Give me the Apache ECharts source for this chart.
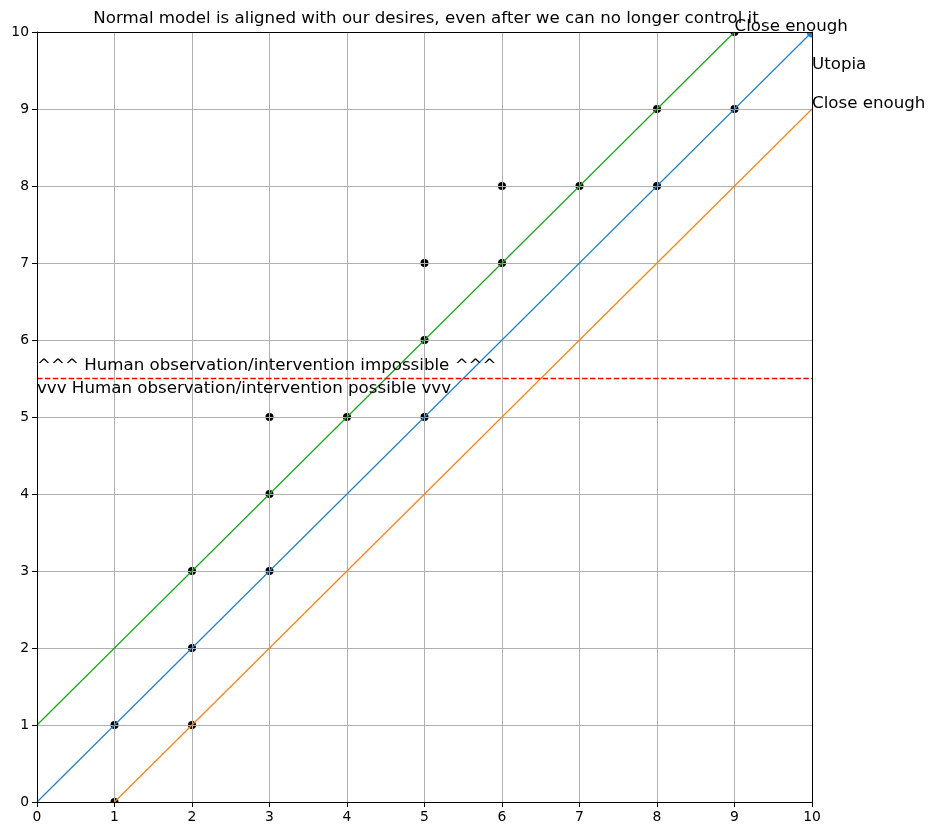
<!DOCTYPE html>
<html>
<head>
<meta charset="utf-8">
<script src="https://cdn.jsdelivr.net/npm/echarts@6/dist/echarts.min.js"></script>
<style>html,body{margin:0;padding:0;background:#fff;}#c{width:935px;height:836px;}</style>
</head>
<body>
<div id="c"></div>
<script>
const titleText = 'Normal model is aligned with our desires, even after we can no longer control it';
const axisTicks = [0, 1, 2, 3, 4, 5, 6, 7, 8, 9, 10];

// Lines (x, y pairs)
const greenLineX = [0, 9];
const greenLineY = [1, 10];
const blueLineX = [0, 10];
const blueLineY = [0, 10];
const orangeLineX = [1, 10];
const orangeLineY = [0, 9];

// Threshold line
const thresholdY = 5.5;

// Black points
const dotsX = [1, 1, 2, 2, 2, 3, 3, 3, 4, 5, 5, 5, 6, 6, 7, 8, 8, 9, 9];
const dotsY = [0, 1, 1, 2, 3, 3, 4, 5, 5, 5, 6, 7, 7, 8, 8, 8, 9, 9, 10];

// Utopia point
const utopiaX = [10];
const utopiaY = [10];

// Annotations
const annotationText = ['Close enough', 'Utopia', 'Close enough',
  '^^^ Human observation/intervention impossible ^^^',
  'vvv Human observation/intervention possible vvv'];
const annotationX = [9, 10, 10, 0, 0];
const annotationY = [10, 9.5, 9, 5.6, 5.3];

const FONT = 'DejaVu Sans';
const zip = (xs, ys) => xs.map((x, i) => [x, ys[i]]);

const chart = echarts.init(document.getElementById('c'), null, {renderer: 'canvas'});

function dotRenderer(r, color) {
  return function (params, api) {
    const p = api.coord([api.value(0), api.value(1)]);
    return {type: 'circle', shape: {cx: p[0], cy: p[1], r: r}, style: {fill: color, opacity: 1}};
  };
}

const baseAxis = {type: 'value', min: axisTicks[0], max: axisTicks[axisTicks.length - 1], interval: 1};

const option = {
  backgroundColor: '#fff',
  animation: false,
  title: {
    text: titleText,
    left: 421,
    top: 5,
    textAlign: 'center',
    textStyle: {fontFamily: FONT, fontSize: 16.67, fontWeight: 'normal', color: '#000'}
  },
  grid: {left: 37, right: 123, top: 32, bottom: 34},
  xAxis: [
    Object.assign({}, baseAxis, {
      position: 'bottom', z: 6,
      axisLine: {show: true, onZero: false, lineStyle: {color: '#000', width: 1}},
      axisTick: {show: true, length: 5, lineStyle: {color: '#000', width: 1}},
      axisLabel: {show: true, fontFamily: FONT, fontSize: 13.89, color: '#000', margin: 8},
      splitLine: {show: false}
    }),
    Object.assign({}, baseAxis, {
      position: 'top', z: 6,
      axisLine: {show: true, onZero: false, lineStyle: {color: '#000', width: 1}},
      axisTick: {show: false}, axisLabel: {show: false}, splitLine: {show: false}
    }),
    Object.assign({}, baseAxis, {
      position: 'bottom', z: 2,
      axisLine: {show: false}, axisTick: {show: false}, axisLabel: {show: false},
      splitLine: {show: true, lineStyle: {color: '#b0b0b0', width: 1}}
    })
  ],
  yAxis: [
    Object.assign({}, baseAxis, {
      position: 'left', z: 6,
      axisLine: {show: true, onZero: false, lineStyle: {color: '#000', width: 1}},
      axisTick: {show: true, length: 5, lineStyle: {color: '#000', width: 1}},
      axisLabel: {show: true, fontFamily: FONT, fontSize: 13.89, color: '#000', margin: 8},
      splitLine: {show: false}
    }),
    Object.assign({}, baseAxis, {
      position: 'right', z: 6,
      axisLine: {show: true, onZero: false, lineStyle: {color: '#000', width: 1}},
      axisTick: {show: false}, axisLabel: {show: false}, splitLine: {show: false}
    }),
    Object.assign({}, baseAxis, {
      position: 'left', z: 2,
      axisLine: {show: false}, axisTick: {show: false}, axisLabel: {show: false},
      splitLine: {show: true, lineStyle: {color: '#b0b0b0', width: 1}}
    })
  ],
  series: [
    {
      type: 'custom', name: 'dots', z: 1, clip: true,
      renderItem: dotRenderer(4, '#000'),
      encode: {x: 0, y: 1},
      data: zip(dotsX, dotsY)
    },
    {
      type: 'line', name: 'green', z: 3, symbol: 'none', clip: true,
      lineStyle: {color: '#14a814', width: 1.2},
      data: zip(greenLineX, greenLineY)
    },
    {
      type: 'line', name: 'blue', z: 3, symbol: 'none', clip: true,
      lineStyle: {color: '#1f80c8', width: 1.2},
      data: zip(blueLineX, blueLineY)
    },
    {
      type: 'line', name: 'orange', z: 3, symbol: 'none', clip: true,
      lineStyle: {color: '#ff8010', width: 1.2},
      data: zip(orangeLineX, orangeLineY)
    },
    {
      type: 'line', name: 'threshold', z: 3, symbol: 'none',
      lineStyle: {color: '#ff0000', width: 1.6, type: [5.5, 2.4]},
      data: [[axisTicks[0], thresholdY], [axisTicks[axisTicks.length - 1], thresholdY]]
    },
    {
      type: 'custom', name: 'utopia', z: 4, clip: true,
      renderItem: dotRenderer(5.5, '#1f80c8'),
      encode: {x: 0, y: 1},
      data: zip(utopiaX, utopiaY)
    },
    {
      type: 'scatter', name: 'annotations', z: 7, clip: false,
      symbolSize: 0, silent: true,
      itemStyle: {opacity: 1},
      label: {
        show: true, position: [0, 0], align: 'left', verticalAlign: 'middle',
        offset: [0, -5.5],
        fontFamily: FONT, fontSize: 16.67, color: '#000', opacity: 1,
        formatter: p => p.name
      },
      data: annotationText.map((t, i) => ({name: t, value: [annotationX[i], annotationY[i]]}))
    }
  ]
};
chart.setOption(option);
</script>
</body>
</html>
